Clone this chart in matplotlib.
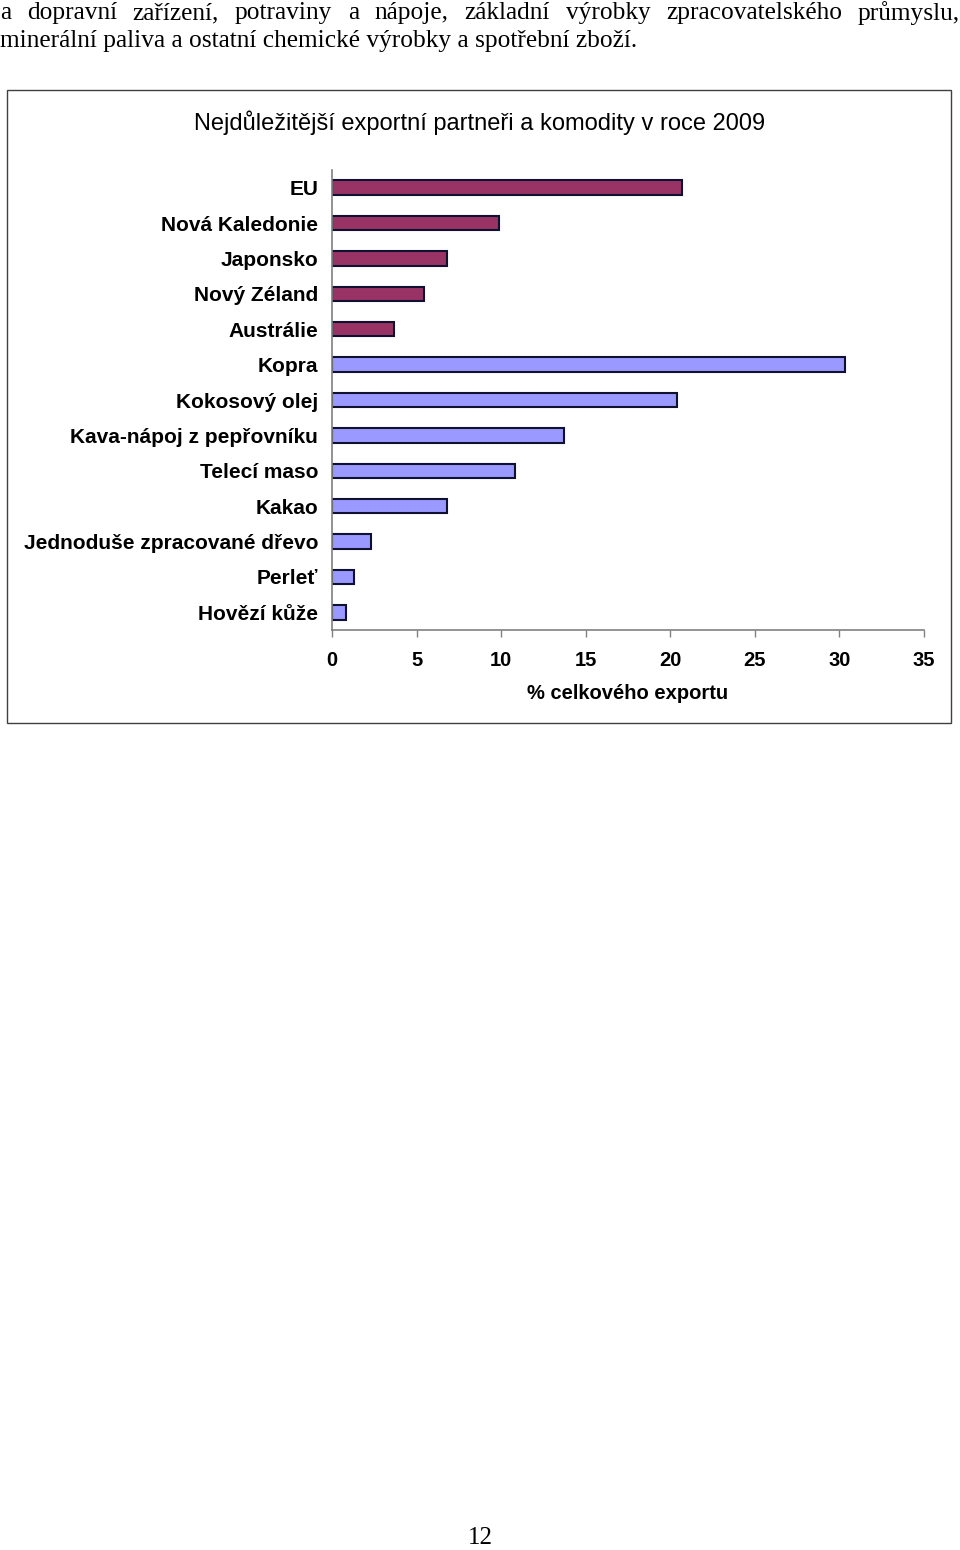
import matplotlib
matplotlib.use("Agg")
import matplotlib.pyplot as plt
from matplotlib.patches import Rectangle

categories = ['EU', 'Nová Kaledonie', 'Japonsko', 'Nový Zéland', 'Austrálie',
              'Kopra', 'Kokosový olej', 'Kava-nápoj z pepřovníku', 'Telecí maso',
              'Kakao', 'Jednoduše zpracované dřevo', 'Perleť', 'Hovězí kůže']
values = [20.7, 9.85, 6.8, 5.45, 3.65, 30.3, 20.4, 13.7, 10.8, 6.8, 2.3, 1.3, 0.8]
groups = ['partner'] * 5 + ['komodita'] * 8
colors = {'partner': '#993366', 'komodita': '#9999FF'}
xticks = [0, 5, 10, 15, 20, 25, 30, 35]

line1 = 'a dopravní zařízení, potraviny a nápoje, základní výrobky zpracovatelského průmyslu,'
line2 = 'minerální paliva a ostatní chemické výrobky a spotřební zboží.'

W, H = 960, 1550
fig = plt.figure(figsize=(W / 100, H / 100), dpi=100)
fig.patch.set_facecolor('white')

serif = 'Liberation Serif'
sans = 'Liberation Sans'

# page text, first line justified
words = line1.split(' ')
renderer = fig.canvas.get_renderer()
txts = [fig.text(0, 1 - 13 / H, w, fontsize=18.3, family=serif, va='center') for w in words]
widths = [t.get_window_extent(renderer).width for t in txts]
gap = (W - sum(widths)) / (len(words) - 1)
x = 0
for t, w in zip(txts, widths):
    t.set_x(x / W)
    x += w + gap
fig.text(0, 1 - 41 / H, line2, fontsize=18.3, family=serif, va='center')

# chart frame
fig.patches.append(Rectangle((7 / W, 1 - 723 / H), 944 / W, 633 / H, transform=fig.transFigure,
                             fill=False, edgecolor='#404040', linewidth=1.0))
fig.text(480 / W, 1 - 123 / H, 'Nejdůležitější exportní partneři a komodity v roce 2009',
         fontsize=17, family=sans, ha='center', va='center')

ax = fig.add_axes([332 / W, 1 - 630 / H, 592 / W, 460 / H])
pos = list(range(len(categories)))
ax.barh(pos, values, height=0.41, color=[colors[g] for g in groups],
        edgecolor='#101030', linewidth=1.5)
ax.set_ylim(len(categories) - 0.5, -0.5)
ax.set_xlim(0, 35)
ax.set_yticks(pos)
ax.set_yticklabels(categories, fontsize=15, family=sans, fontweight='bold')
ax.set_xticks(xticks)
ax.set_xticklabels([str(v) for v in xticks], fontsize=14.5, family=sans, fontweight='bold')
ax.tick_params(axis='y', length=0, pad=10)
ax.tick_params(axis='x', length=5, width=1, color='#808080', pad=10)
for s in ['top', 'right']:
    ax.spines[s].set_visible(False)
for s in ['left', 'bottom']:
    ax.spines[s].set_color('#808080')
    ax.spines[s].set_linewidth(1.2)
ax.set_xlabel('% celkového exportu', fontsize=14.5, family=sans, fontweight='bold', labelpad=10)

fig.text(480 / W, 1 - 1538 / H, '12', fontsize=18, family=serif, ha='center', va='center')

fig.savefig('out.png', dpi=100, facecolor='white')
